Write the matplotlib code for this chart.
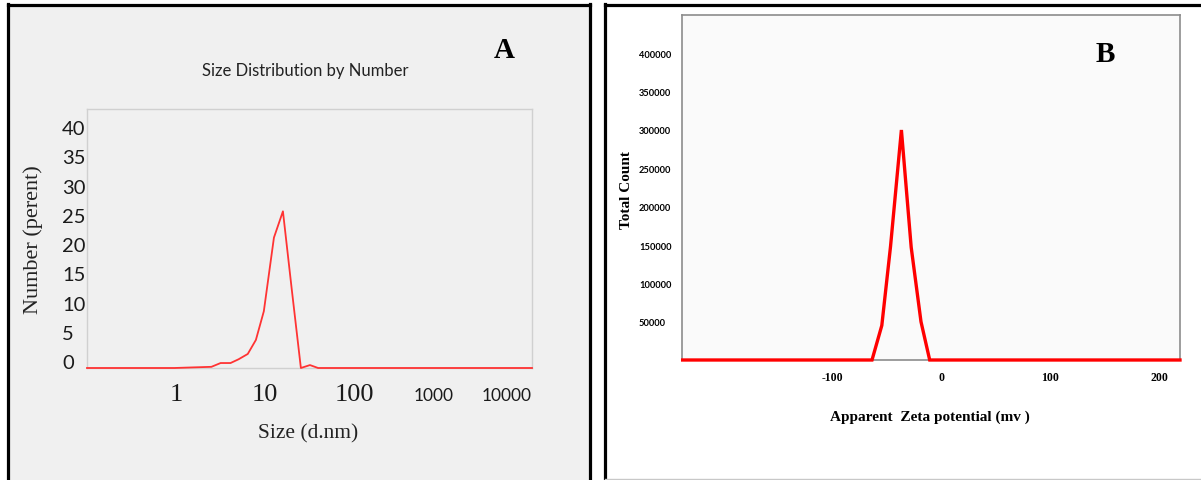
#!/usr/bin/env python3
"""
Particle size distribution (A) and zeta potential distribution (B),
drawn side by side as two framed panels.
"""

import matplotlib.pyplot as plt
from matplotlib.lines import Line2D
from matplotlib.patches import Rectangle
from matplotlib.transforms import ScaledTranslation

W, H = 1201, 481

# --- Panel A: size distribution by number ---
size_nm = [0.1, 0.96, 1.53, 2.5, 3.17, 4.1, 5.06, 6.4, 7.9, 9.7, 12.6, 15.9,
           20.0, 25.3, 32.0, 39.5, 10000]
number_pct = [0, 0, 0.1, 0.2, 0.85, 0.85, 1.5, 2.4, 4.8, 9.7, 22.3, 26.8,
              13.4, 0, 0.5, 0, 0]
size_ticks = [1, 10, 100, 1000, 10000]
number_ticks = [0, 5, 10, 15, 20, 25, 30, 35, 40]

# --- Panel B: apparent zeta potential ---
zeta_mv = [-238, -64, -55, -47, -37, -28, -19, -11, 219]
total_count = [0, 0, 45000, 148000, 300000, 147000, 50000, 0, 0]
zeta_ticks = [-100, 0, 100, 200]
count_ticks = [50000, 100000, 150000, 200000, 250000, 300000, 350000, 400000]

SERIF = "Liberation Serif"
SANS = "Lato"


def fx(px):
    return px / W


def fy(py):
    return 1 - py / H


def box(left, top, right, bottom):
    return [fx(left), fy(bottom), fx(right) - fx(left), fy(top) - fy(bottom)]


def hline(fig, x0, x1, y, **kw):
    fig.add_artist(Line2D([fx(x0), fx(x1)], [fy(y), fy(y)],
                          transform=fig.transFigure, **kw))


def vline(fig, x, y0, y1, **kw):
    fig.add_artist(Line2D([fx(x), fx(x)], [fy(y0), fy(y1)],
                          transform=fig.transFigure, **kw))


def main():
    fig = plt.figure(figsize=(W / 100, H / 100), dpi=100, facecolor="white")

    # panel backgrounds and black frames
    fig.add_artist(Rectangle((fx(7), 0), fx(591) - fx(7), fy(5),
                             transform=fig.transFigure, facecolor="#f0f0f0",
                             edgecolor="none", zorder=0))
    frame = dict(color="black", linewidth=2.3, solid_capstyle="projecting")
    vline(fig, 8, 5, 481, **frame)
    vline(fig, 590, 5, 481, **frame)
    hline(fig, 8, 590, 5.5, **frame)
    vline(fig, 605, 5, 481, **frame)
    hline(fig, 605, 1201, 5.5, **frame)
    hline(fig, 605, 1201, 479.5, color="#c8c8c8", linewidth=1.0)

    # ---------------- A ----------------
    ax1 = fig.add_axes(box(87, 110, 532, 369))
    ax1.set_facecolor("#f0f0f0")
    ax1.plot(size_nm, number_pct, color="#ff3333", linewidth=1.3,
             clip_on=False, zorder=3)
    ax1.set_xscale("log")
    ax1.set_xlim(0.1, 10000)
    ax1.set_ylim(0, 44.3)
    for s in ax1.spines.values():
        s.set_color("#d0d0d0")
        s.set_linewidth(1.0)
    ax1.minorticks_off()
    ax1.set_xticks(size_ticks)
    ax1.set_xticklabels([str(t) for t in size_ticks])
    ax1.set_yticks(number_ticks)
    ax1.set_yticklabels([str(t) for t in number_ticks])
    ax1.tick_params(axis="both", length=0)
    ax1.tick_params(axis="y", pad=18, labelsize=14.5, labelcolor="#1a1a1a")
    ax1.tick_params(axis="x", pad=11, labelcolor="#1a1a1a")
    for lab in ax1.get_yticklabels():
        lab.set_fontfamily(SANS)
        lab.set_horizontalalignment("left")
        lab.set_verticalalignment("baseline")
    for lab, t in zip(ax1.get_xticklabels(), size_ticks):
        if t < 1000:
            lab.set_fontfamily(SERIF)
            lab.set_fontsize(19)
        else:
            lab.set_fontfamily(SANS)
            lab.set_fontsize(12.5)
            lab.set_transform(lab.get_transform() +
                              ScaledTranslation(0, -0.04, fig.dpi_scale_trans))
    # the two largest size labels are squeezed toward the left
    lab_1000 = ax1.get_xticklabels()[-2]
    lab_1000.set_transform(lab_1000.get_transform() +
                           ScaledTranslation(-0.09, 0, fig.dpi_scale_trans))
    ax1.get_xticklabels()[-1].set_horizontalalignment("right")

    fig.text(fx(305), fy(71), "Size Distribution by Number", family=SANS,
             fontsize=12, ha="center", va="center", color="#222222")
    fig.text(fx(504), fy(51), "A", family=SERIF, fontweight="bold",
             fontsize=21, ha="center", va="center")
    fig.text(fx(33), fy(240), "Number (perent)", family=SERIF, fontsize=16,
             rotation=90, ha="center", va="center", color="#222222")
    fig.text(fx(308), fy(434), "Size (d.nm)", family=SERIF, fontsize=15.5,
             ha="center", va="center", color="#222222")

    # ---------------- B ----------------
    ax2 = fig.add_axes(box(682, 16, 1180, 361))
    ax2.set_facecolor("#fafafa")
    ax2.plot(zeta_mv, total_count, color="#ff0000", linewidth=2.4,
             clip_on=False, zorder=3, solid_joinstyle="miter")
    ax2.set_xlim(-238.6, 219)
    ax2.set_ylim(0, 450000)
    for s in ax2.spines.values():
        s.set_color("#8c8c8c")
        s.set_linewidth(1.2)
    ax2.set_xticks(zeta_ticks)
    ax2.set_xticklabels([str(t) for t in zeta_ticks])
    ax2.set_yticks(count_ticks)
    ax2.set_yticklabels([str(t) for t in count_ticks])
    ax2.tick_params(axis="both", length=0)
    ax2.tick_params(axis="y", pad=31, labelsize=6.7)
    ax2.tick_params(axis="x", pad=8, labelsize=8.5)
    for lab in ax2.get_yticklabels():
        lab.set_fontfamily(SANS)
        lab.set_fontweight("bold")
        lab.set_horizontalalignment("left")
    for lab in ax2.get_xticklabels():
        lab.set_fontfamily(SERIF)
        lab.set_fontweight("bold")

    fig.text(fx(1105), fy(55), "B", family=SERIF, fontweight="bold",
             fontsize=21, ha="center", va="center")
    fig.text(fx(626), fy(190), "Total Count", family=SERIF, fontweight="bold",
             fontsize=11, rotation=90, ha="center", va="center")
    fig.text(fx(930), fy(417), "Apparent  Zeta potential (mv )", family=SERIF,
             fontweight="bold", fontsize=11, ha="center", va="center")

    fig.savefig("out.png", dpi=100, facecolor="white")
    plt.close(fig)


if __name__ == "__main__":
    main()
